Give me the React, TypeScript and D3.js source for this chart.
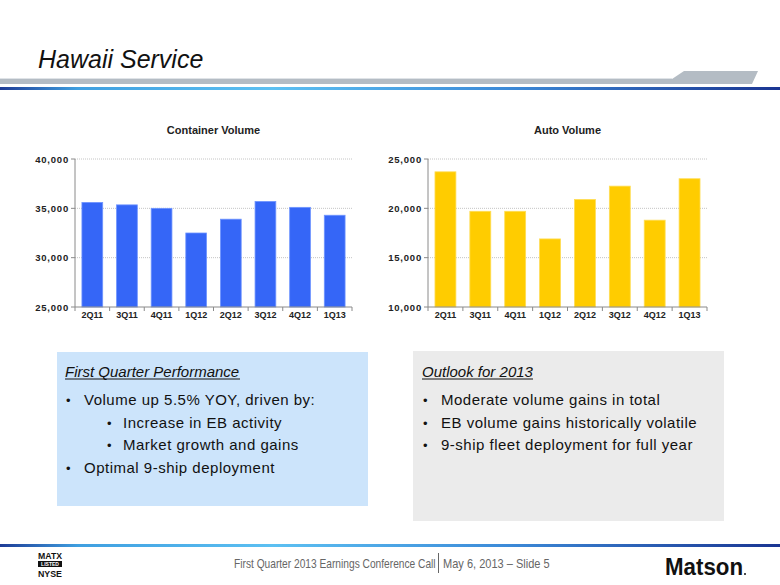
import React from "react";
import * as d3 from "d3";

const categories = ["2Q11", "3Q11", "4Q11", "1Q12", "2Q12", "3Q12", "4Q12", "1Q13"];
const containerValues = [35600, 35350, 35000, 32500, 33900, 35700, 35100, 34300];
const autoValues = [23700, 19700, 19700, 16900, 20900, 22250, 18800, 23000];
const containerTicks = [25000, 30000, 35000, 40000];
const autoTicks = [10000, 15000, 20000, 25000];

const leftBullets = [
  { text: "Volume up 5.5% YOY, driven by:", level: 0 },
  { text: "Increase in EB activity", level: 1 },
  { text: "Market growth and gains", level: 1 },
  { text: "Optimal 9-ship deployment", level: 0 },
];
const rightBullets = [
  "Moderate volume gains in total",
  "EB volume gains historically volatile",
  "9-ship fleet deployment for full year",
];

const FONT = "'Liberation Sans', Arial, Helvetica, sans-serif";
const fmt = d3.format(",");

function BarChart({ title, values, ticks, x0, x1, color, stroke }: any) {
  const y = d3.scaleLinear().domain([ticks[0], ticks[ticks.length - 1]]).range([307, 159]);
  const x = d3.scaleBand().domain(categories).range([x0, x1]).paddingInner(0.4).paddingOuter(0.2);
  const bandStep = (x1 - x0) / categories.length;
  return (
    <g fontFamily={FONT}>
      <text x={(x0 + x1) / 2} y={134} textAnchor="middle" fontSize={11} fontWeight="bold" fill="#222">
        {title}
      </text>
      {ticks.slice(1).map((t: number) => (
        <line key={t} x1={x0} x2={x1} y1={y(t)} y2={y(t)} stroke="#c4c4c4" strokeDasharray="1,1" />
      ))}
      {values.map((v: number, i: number) => (
        <rect
          key={i}
          x={x(categories[i])}
          y={y(v)}
          width={x.bandwidth()}
          height={y(ticks[0]) - y(v)}
          fill={color}
          stroke={stroke}
          strokeWidth={0.8}
        />
      ))}
      <line x1={x0} x2={x0} y1={159} y2={307} stroke="#8a8a8a" />
      <line x1={x0} x2={x1} y1={307} y2={307} stroke="#8a8a8a" />
      {ticks.map((t: number) => (
        <g key={t}>
          <line x1={x0 - 4} x2={x0} y1={y(t)} y2={y(t)} stroke="#8a8a8a" />
          <text x={x0 - 6} y={y(t) + 3.5} textAnchor="end" fontSize={9.5} letterSpacing={0.8} fontWeight="bold" fill="#222">
            {fmt(t)}
          </text>
        </g>
      ))}
      {d3.range(categories.length + 1).map((i) => (
        <line key={i} x1={x0 + i * bandStep} x2={x0 + i * bandStep} y1={307} y2={311} stroke="#8a8a8a" />
      ))}
      {categories.map((c) => (
        <text key={c} x={(x(c) as number) + x.bandwidth() / 2} y={318} textAnchor="middle" fontSize={9} fontWeight="bold" fill="#222">
          {c}
        </text>
      ))}
    </g>
  );
}

export default function App() {
  return (
    <svg
      width={780}
      height={585}
      viewBox="0 0 780 585"
      style={{ position: "absolute", left: 0, top: 0, display: "block", background: "#fff" }}
      fontFamily={FONT}
    >
      <defs>
        <linearGradient id="blueLine" x1="0" x2="1" y1="0" y2="0">
          <stop offset="0" stopColor="#1e3c96" />
          <stop offset="0.1" stopColor="#3f9fe0" />
          <stop offset="0.35" stopColor="#5cc0f2" />
          <stop offset="0.65" stopColor="#3c8ad8" />
          <stop offset="1" stopColor="#1a3592" />
        </linearGradient>
      </defs>
      <rect width={780} height={585} fill="#fff" />
      {/* header */}
      <text x={38} y={68} fontSize={25} fontStyle="italic" fill="#111">
        Hawaii Service
      </text>
      <polygon points="0,79 672,79 684,71 758,71 752,84 0,84" fill="#b4bcc4" />
      <line x1={0} x2={672} y1={78.5} y2={78.5} stroke="#dfe3e7" />
      <rect x={0} y={87} width={780} height={3} fill="url(#blueLine)" />

      <BarChart title="Container Volume" values={containerValues} ticks={containerTicks} x0={75} x1={352} color="#3566f7" stroke="#6f95ff" />
      <BarChart title="Auto Volume" values={autoValues} ticks={autoTicks} x0={428} x1={707} color="#ffcc00" stroke="#ffdd55" />

      {/* left box */}
      <rect x={57} y={352} width={311} height={154} fill="#cce4fb" />
      <text x={65} y={377} fontSize={15} fontStyle="italic" fill="#111">
        First Quarter Performance
      </text>
      <line x1={65} x2={240} y1={379} y2={379} stroke="#111" strokeWidth={1} />
      {leftBullets.map((b, i) => (
        <g key={i}>
          <text x={b.level ? 107 : 66} y={405 + i * 22.7} fontSize={13} fill="#111">•</text>
          <text x={b.level ? 123 : 84} y={405 + i * 22.7} fontSize={15} letterSpacing={0.5} fill="#111">
            {b.text}
          </text>
        </g>
      ))}

      {/* right box */}
      <rect x={413} y={351} width={311} height={170} fill="#ebebeb" />
      <text x={422} y={377} fontSize={15} fontStyle="italic" fill="#111">
        Outlook for 2013
      </text>
      <line x1={422} x2={533} y1={379} y2={379} stroke="#111" strokeWidth={1} />
      {rightBullets.map((b, i) => (
        <g key={i}>
          <text x={423} y={405 + i * 22.7} fontSize={13} fill="#111">•</text>
          <text x={441} y={405 + i * 22.7} fontSize={15} letterSpacing={0.5} fill="#111">
            {b}
          </text>
        </g>
      ))}

      {/* footer */}
      <rect x={0} y={544} width={780} height={3} fill="url(#blueLine)" />
      <text x={38} y={559} fontSize={9} fontWeight="bold" fill="#111" textLength={24} lengthAdjust="spacingAndGlyphs">MATX</text>
      <rect x={38} y={561} width={24} height={6} fill="#111" />
      <text x={50} y={566} fontSize={5} fontWeight="bold" fill="#fff" textAnchor="middle">LISTED</text>
      <text x={38} y={577} fontSize={9} fontWeight="bold" fill="#111" textLength={24} lengthAdjust="spacingAndGlyphs">NYSE</text>
      <g transform="translate(234,568) scale(0.85,1)">
        <text x={0} y={0} fontSize={12} fill="#666">
          First Quarter 2013 Earnings Conference Call
        </text>
      </g>
      <line x1={438.5} x2={438.5} y1={553} y2={573} stroke="#666" />
      <g transform="translate(443,568) scale(0.92,1)">
        <text x={0} y={0} fontSize={12} fill="#666">
          May 6, 2013 – Slide 5
        </text>
      </g>
      <text x={665} y={575} fontSize={23} fontWeight="bold" fill="#111" textLength={78} lengthAdjust="spacingAndGlyphs">
        Matson
      </text>
      <circle cx={745} cy={574} r={1} fill="#111" />
    </svg>
  );
}
